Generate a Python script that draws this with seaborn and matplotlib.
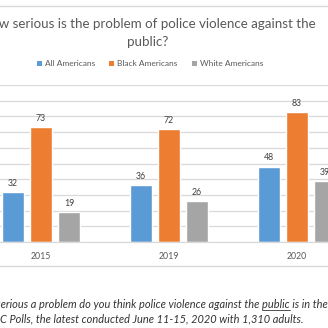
import matplotlib
matplotlib.use("Agg")
import matplotlib.pyplot as plt
import seaborn as sns
import pandas as pd
from matplotlib.lines import Line2D
from matplotlib.patches import Patch

years = ["2015", "2019", "2020"]
groups = ["All Americans", "Black Americans", "White Americans"]
all_americans = [32, 36, 48]
black_americans = [73, 72, 83]
white_americans = [19, 26, 39]
colors = ["#5B9BD5", "#ED7D31", "#A5A5A5"]

title = "How serious is the problem of police violence against the\npublic?"
note1_a = "Question: How serious a problem do you think police violence against the "
note1_b = "public"
note1_c = " is in the United States?"
note2 = "Source: AP-NORC Polls, the latest conducted June 11-15, 2020 with 1,310 adults."

df = pd.DataFrame({
    "year": years * 3,
    "group": [g for g in groups for _ in years],
    "value": all_americans + black_americans + white_americans,
})

sns.set_theme(style="white")
plt.rcParams["font.family"] = ["Lato", "DejaVu Sans"]

W = H = 328
fig = plt.figure(figsize=(3.28, 3.28), dpi=100)
fig.patch.set_facecolor("white")

# axes spans beyond the visible figure (cropped screenshot)
left_px, right_px, bottom_px, top_px = -23, 361, 242, 85
ax = fig.add_axes([left_px / W, 1 - bottom_px / H, (right_px - left_px) / W, (bottom_px - top_px) / H])

sns.barplot(data=df, x="year", y="value", hue="group", hue_order=groups, palette=colors,
            width=0.656, gap=0.214, ax=ax, legend=False, saturation=1, err_kws={"linewidth": 0})

for c in ax.containers:
    ax.bar_label(c, padding=3, fontsize=6.3, color="#404040")

ax.set_xlim(-0.5, 2.5)
ax.set_ylim(0, 100)
ax.set_yticks(range(0, 101, 10))
ax.yaxis.grid(True, color="#D9D9D9", linewidth=0.9)
ax.set_axisbelow(True)
ax.set_yticklabels([])
ax.tick_params(axis="both", length=0)
ax.tick_params(axis="x", labelsize=6.3, labelcolor="#595959", pad=7)
ax.set_xlabel("")
ax.set_ylabel("")
for s in ["left", "right", "top"]:
    ax.spines[s].set_visible(False)
ax.spines["bottom"].set_color("#D9D9D9")
ax.spines["bottom"].set_linewidth(0.9)

# title
fig.text(148 / W, 1 - 33 / H, title, ha="center", va="center", fontsize=9.6,
         color="#595959", linespacing=1.5, multialignment="center")

# legend
handles = [Patch(facecolor=c, edgecolor="none") for c in colors]
fig.legend(handles, groups, loc="center", bbox_to_anchor=(150 / W, 1 - 64 / H), ncol=3,
           frameon=False, fontsize=6.0, labelcolor="#595959", handlelength=0.6,
           handleheight=0.6, handletextpad=0.35, columnspacing=1.7, borderaxespad=0)

# chart border lines
fig.add_artist(Line2D([0, 1], [1 - 6 / H, 1 - 6 / H], transform=fig.transFigure, color="#D9D9D9", lw=1))
fig.add_artist(Line2D([0, 1], [1 - 266 / H, 1 - 266 / H], transform=fig.transFigure, color="#D9D9D9", lw=1))

# footnote
fs = 7.9
fcol = "#333333"
renderer = fig.canvas.get_renderer()


def text_w(s):
    p = fig.text(0, 0, s, fontsize=fs, style="italic")
    w = p.get_window_extent(renderer).width
    p.remove()
    return w


x1 = -text_w("Question: How s") + 1
x2 = -text_w("Source: AP-NOR")
fig.text(x2 / W, 1 - 319 / H, note2, ha="left", va="center", fontsize=fs, style="italic", color=fcol)
fig.text(x1 / W, 1 - 304.5 / H, note1_a + note1_b + note1_c, ha="left", va="center",
         fontsize=fs, style="italic", color=fcol)
wa = text_w(note1_a.rstrip() + " ")
wb = text_w(note1_b)
uy = 1 - 309.8 / H
fig.add_artist(Line2D([(x1 + wa) / W, (x1 + wa + wb) / W], [uy, uy], transform=fig.transFigure,
                      color=fcol, lw=0.6))

fig.savefig("out.png", dpi=100, facecolor="white")
